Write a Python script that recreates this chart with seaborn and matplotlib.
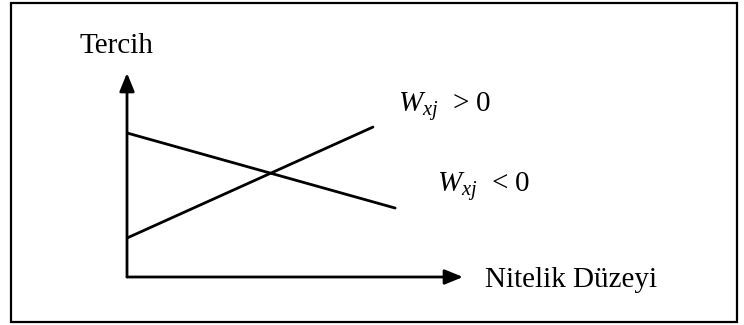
import numpy as np
import pandas as pd
import seaborn as sns
import matplotlib.pyplot as plt
from matplotlib.patches import Rectangle

# attribute level (x) and preference (y) for the two utility lines
level_pos = [0.0, 7.32]
pref_pos = [1.91, 7.35]
level_neg = [0.0, 7.98]
pref_neg = [7.06, 3.38]
series_labels = [r'$W_{xj}$  > 0', r'$W_{xj}$  < 0']
y_label = 'Tercih'
x_label = 'Nitelik Düzeyi'

sns.set_style('white')
plt.rcParams.update({
    'font.family': ['Liberation Serif', 'DejaVu Serif'],
    'mathtext.fontset': 'custom',
    'mathtext.rm': 'Liberation Serif',
    'mathtext.it': 'Liberation Serif:italic',
    'text.color': 'black',
})

df = pd.DataFrame({
    'level': level_pos + level_neg,
    'pref': pref_pos + pref_neg,
    'sign': ['pos'] * len(level_pos) + ['neg'] * len(level_neg),
})

W, H = 744, 325
fig = plt.figure(figsize=(W / 100, H / 100), dpi=100)

# outer frame
fig.patches.append(Rectangle((11 / W, 3 / H), (737 - 11) / W, (322 - 3) / H,
                             transform=fig.transFigure, fill=False,
                             edgecolor='black', linewidth=1.6))

# axes placed so that the origin sits at px (127, 277)
ax = fig.add_axes([127 / W, (H - 277) / H, (463 - 127) / W, (277 - 73) / H])
ax.set_xlim(0, 10)
ax.set_ylim(0, 10)
ax.axis('off')

sns.lineplot(data=df, x='level', y='pref', hue='sign', units='sign', estimator=None,
             palette={'pos': 'black', 'neg': 'black'}, linewidth=2.0,
             legend=False, ax=ax)

# axis arrows
arrow = dict(arrowstyle='-|>,head_length=1.1,head_width=0.45', color='black',
             linewidth=2.0, shrinkA=0, shrinkB=0)
ax.annotate('', xy=(10, 0), xytext=(0, 0), arrowprops=arrow, annotation_clip=False)
ax.annotate('', xy=(0, 10), xytext=(0, 0), arrowprops=arrow, annotation_clip=False)

fs = 21
fig.text(80 / W, (H - 53) / H, y_label, fontsize=fs, va='baseline', ha='left')
fig.text(485 / W, (H - 287) / H, x_label, fontsize=fs, va='baseline', ha='left')
fig.text(398 / W, (H - 112) / H, series_labels[0], fontsize=fs, va='baseline', ha='left')
fig.text(437 / W, (H - 192) / H, series_labels[1], fontsize=fs, va='baseline', ha='left')

fig.savefig('out.png', dpi=100)
